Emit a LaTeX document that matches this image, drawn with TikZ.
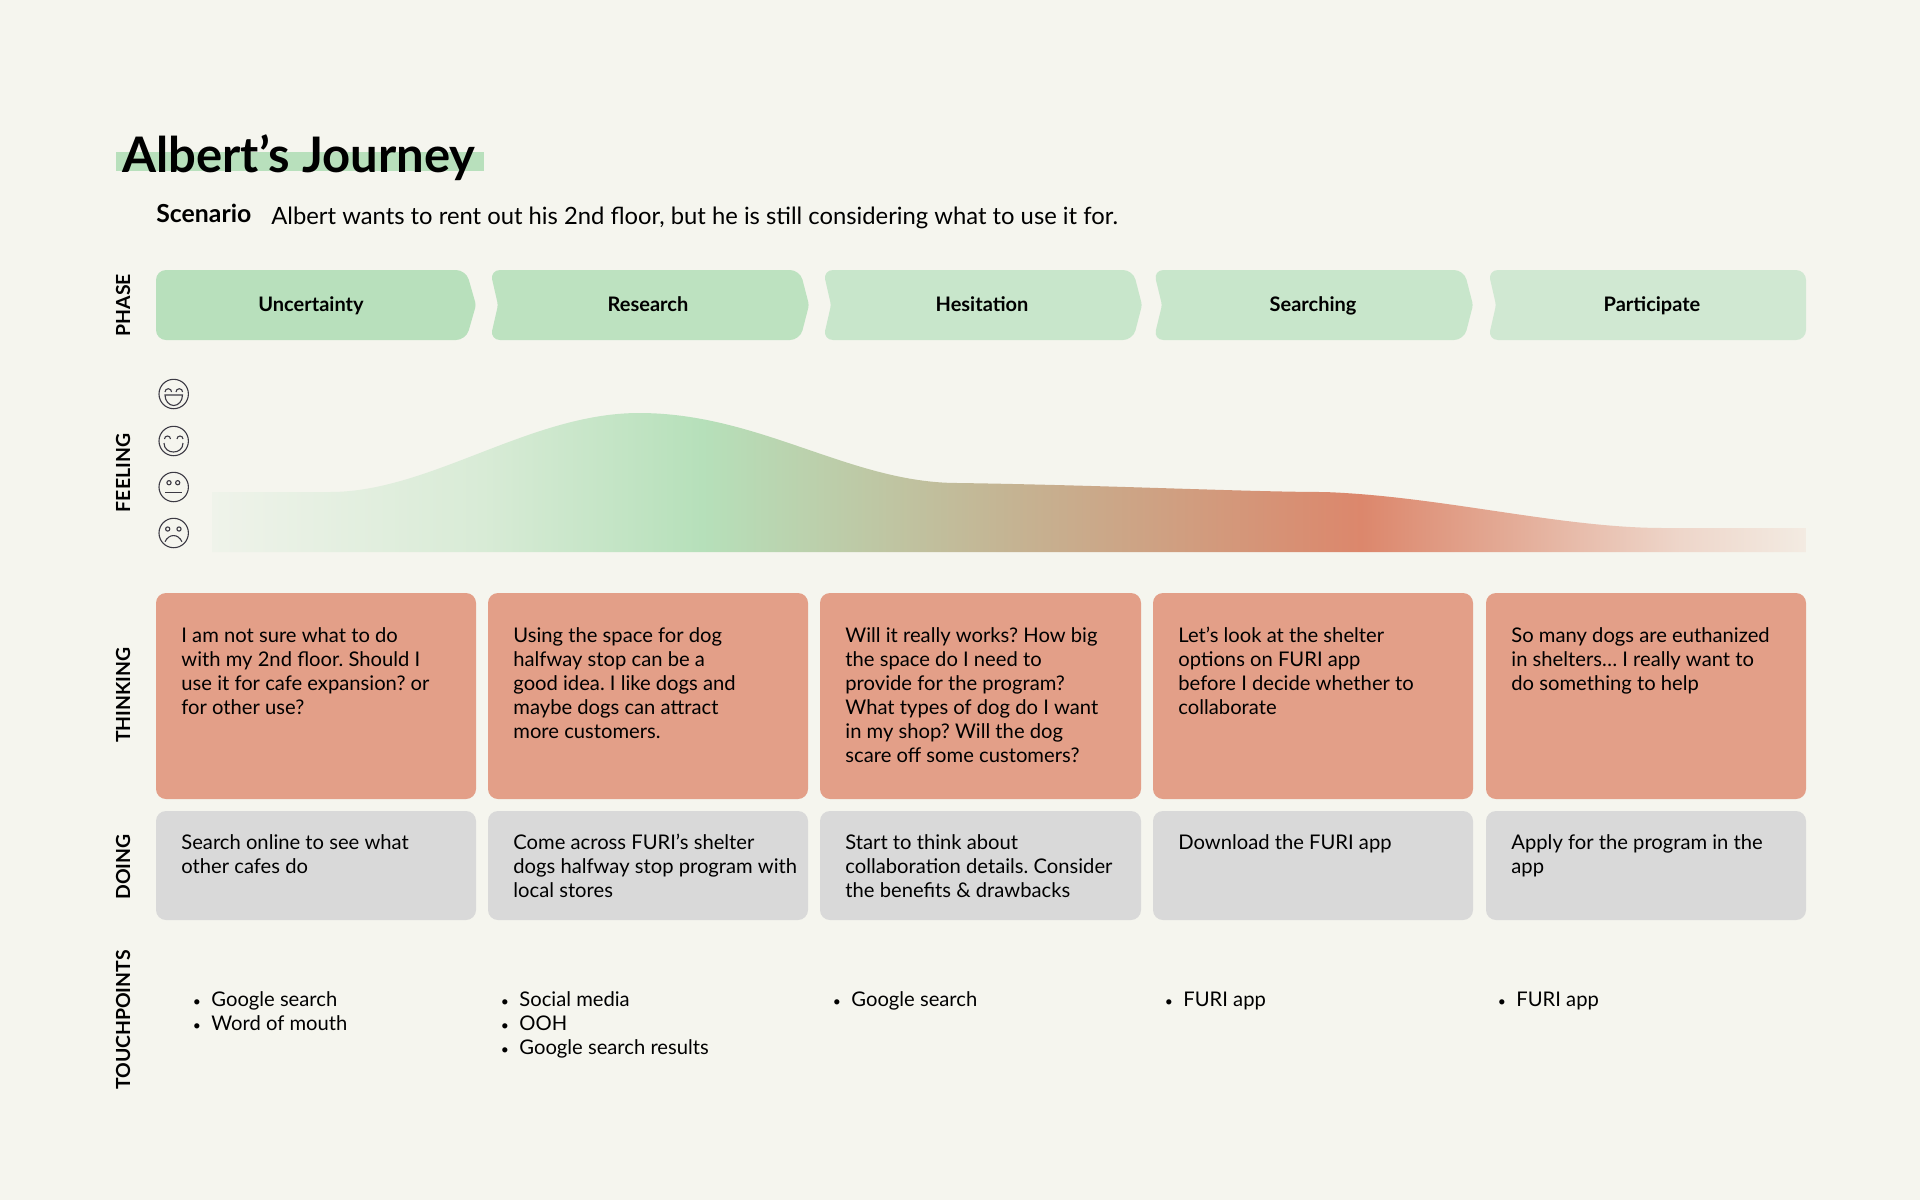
\documentclass[tikz,border=0pt]{standalone}
\usepackage{fontspec}
\setmainfont{Lato}
\usetikzlibrary{positioning,calc}
\definecolor{pagebg}{HTML}{F5F5EE}
\definecolor{phaseA}{HTML}{B8E0BC}
\definecolor{phaseB}{HTML}{BDE2C0}
\definecolor{phaseC}{HTML}{C8E6CB}
\definecolor{phaseD}{HTML}{D0E8D2}
\definecolor{thinkfill}{HTML}{E39F88}
\definecolor{doingfill}{HTML}{D9D9D9}
\definecolor{faceline}{HTML}{3C3A44}
\definecolor{feelstart}{HTML}{EFF3EA}
\definecolor{feellight}{HTML}{D8EBD6}
\definecolor{feelgreen}{HTML}{B6E0BA}
\definecolor{feelmid}{HTML}{C4B594}
\definecolor{feelred}{HTML}{DC876C}
\definecolor{feelpink}{HTML}{E4AE9A}
\definecolor{feelpale}{HTML}{EED6CA}
\definecolor{feelend}{HTML}{F3EBE2}
\pgfdeclarehorizontalshading{feelingshade}{100bp}{
  color(0bp)=(feelstart); color(25bp)=(feelstart);
  color(33.5bp)=(feellight);
  color(40.37bp)=(feelgreen);
  color(49.7bp)=(feelmid);
  color(61.04bp)=(feelred);
  color(66.1bp)=(feelpink);
  color(71.05bp)=(feelpale);
  color(75bp)=(feelend); color(100bp)=(feelend)}
\newcommand{\tpitem}{\strut\makebox[9.25pt][l]{\fontsize{7}{12}\selectfont•}}
\tikzset{
  sidelabel/.style={rotate=90,font=\fontsize{9.7}{11}\selectfont\bfseries,inner sep=0pt},
  phaselabel/.style={anchor=base,font=\fontsize{10}{12}\selectfont\bfseries,inner sep=0pt},
  bodytext/.style={anchor=north west,inner sep=0pt,align=left,font=\fontsize{10.1}{12}\selectfont\frenchspacing},
  card/.style={rounded corners=5pt},
  tip/.style={rounded corners=1.5pt},
  face/.style={draw=faceline,line width=0.55pt}
}
\begin{document}
\begin{tikzpicture}[x=0.5pt,y=-0.5pt]
\fill[pagebg] (0,0) rectangle (1920,1200);
\useasboundingbox (0,0) rectangle (1920,1200);

% heading
\fill[phaseA] (116,152) rectangle (484,171);
\node[anchor=base west,inner sep=0pt,font=\fontsize{24.5}{28}\selectfont\bfseries] (title) at (122,172.5) {Albert’s Journey};
\node[anchor=base west,inner sep=0pt,font=\fontsize{12.4}{14}\selectfont\bfseries] (scenario) at (156,222.5) {Scenario};
\node[anchor=base west,inner sep=0pt,font=\fontsize{11.9}{14}\selectfont\frenchspacing] (scenariotext) at (271,224.5) {Albert wants to rent out his 2nd floor, but he is still considering what to use it for.};

% row labels
\node[sidelabel] (phase) at (123,305) {PHASE};
\node[sidelabel] (feeling) at (123,473) {FEELING};
\node[sidelabel] (thinking) at (123,695) {THINKING};
\node[sidelabel] (doing) at (123,867) {DOING};
\node[sidelabel] (touchpoints) at (123,1020) {TOUCHPOINTS};

% phase arrows
\fill[phaseA,card] (156,270) -- (466,270) [tip] -- (476,305) [card] -- (466,340) -- (156,340) -- cycle;
\fill[phaseB,card] (490,270) -- (800,270) [tip] -- (809,305) [card] -- (800,340) -- (490,340) [tip] -- (498,305) [card] -- cycle;
\fill[phaseC,card] (823,270) -- (1133,270) [tip] -- (1142,305) [card] -- (1133,340) -- (823,340) [tip] -- (831,305) [card] -- cycle;
\fill[phaseC,card] (1153.5,270) -- (1464,270) [tip] -- (1473,305) [card] -- (1464,340) -- (1153.5,340) [tip] -- (1162,305) [card] -- cycle;
\fill[phaseD,card] (1488,270) -- (1806,270) -- (1806,340) -- (1488,340) [tip] -- (1496,305) [card] -- cycle;
\node[phaselabel] (uncertainty) at (311,311.5) {Uncertainty};
\node[phaselabel] (research) at (648,311.5) {Research};
\node[phaselabel] (hesitation) at (982,311.5) {Hesitation};
\node[phaselabel] (searching) at (1313,311.5) {Searching};
\node[phaselabel] (participate) at (1652,311.5) {Participate};

% feeling curve
\shade[shading=feelingshade] (212,552) -- (212,492) -- (330,492)
  .. controls (430,492) and (530,413) .. (639,413)
  .. controls (760,413) and (850,483) .. (958,483)
  .. controls (1100,485) and (1250,492) .. (1324,492)
  .. controls (1440,496) and (1560,528) .. (1664,528)
  -- (1806,528) -- (1806,552) -- cycle;

% faces
\foreach \y in {394,441,487,533}{\draw[face] (173.7,\y) circle (14.7);}
\draw[face] (165,392) arc (180:360:3.3);
\draw[face] (176,392) arc (180:360:3.3);
\draw[face] (165,395) -- (182.5,395) arc (0:180:8.75 and 10.5) -- cycle;
\draw[face] (164.5,439) arc (180:360:3);
\draw[face] (177,439) arc (180:360:3);
\draw[face] (164,443) .. controls (164,455) and (183,455) .. (183,443);
\draw[face] (169,482.7) circle (2.1);
\draw[face] (177.7,482.7) circle (2.1);
\draw[face] (165,492.7) -- (182,492.7);
\draw[face] (167.7,529) circle (2.1);
\draw[face] (179,529) circle (2.1);
\draw[face] (165,541.7) .. controls (169,533.5) and (178,533.5) .. (182,541.7);

% cards
\foreach \x/\w in {156/320,488/320,820/321,1153/320,1486/320}{
  \fill[thinkfill,card] (\x,593) rectangle ++(\w,206);
  \fill[doingfill,card] (\x,811) rectangle ++(\w,109);
}

% thinking
\node[bodytext] (think1) at (181,625) {\strut I am not sure what to do\\with my 2nd floor. Should I\\use it for cafe expansion? or\\for other use?};
\node[bodytext] (think2) at (513,625) {\strut Using the space for dog\\halfway stop can be a\\good idea. I like dogs and\\maybe dogs can attract\\more customers.};
\node[bodytext] (think3) at (845,625) {\strut Will it really works? How big\\the space do I need to\\provide for the program?\\What types of dog do I want\\in my shop? Will the dog\\scare off some customers?};
\node[bodytext] (think4) at (1178,625) {\strut Let’s look at the shelter\\options on FURI app\\before I decide whether to\\collaborate};
\node[bodytext] (think5) at (1511,625) {\strut So many dogs are euthanized\\in shelters… I really want to\\do something to help};

% doing
\node[bodytext] (do1) at (181,832) {\strut Search online to see what\\other cafes do};
\node[bodytext] (do2) at (513,832) {\strut Come across FURI’s shelter\\dogs halfway stop program with\\local stores};
\node[bodytext] (do3) at (845,832) {\strut Start to think about\\collaboration details. Consider\\the benefits \& drawbacks};
\node[bodytext] (do4) at (1178,832) {\strut Download the FURI app};
\node[bodytext] (do5) at (1511,832) {\strut Apply for the program in the\\app};

% touchpoints
\node[bodytext] (touch1) at (192.5,989) {\tpitem Google search\\\tpitem Word of mouth};
\node[bodytext] (touch2) at (500.5,989) {\tpitem Social media\\\tpitem OOH\\\tpitem Google search results};
\node[bodytext] (touch3) at (832.5,989) {\tpitem Google search};
\node[bodytext] (touch4) at (1164.5,989) {\tpitem FURI app};
\node[bodytext] (touch5) at (1497.5,989) {\tpitem FURI app};

\end{tikzpicture}
\end{document}
